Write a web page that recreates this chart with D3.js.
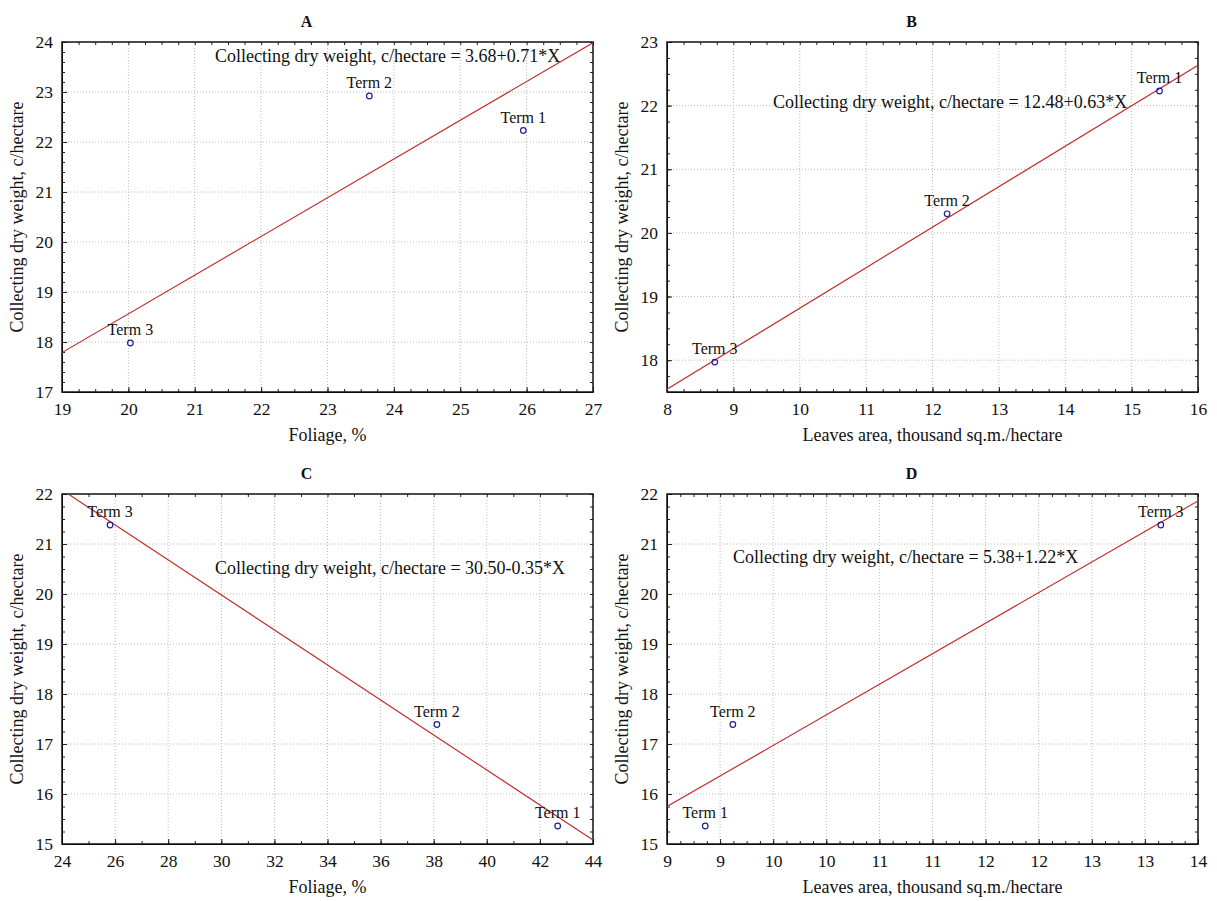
<!DOCTYPE html>
<html>
<head>
<meta charset="utf-8">
<script src="https://cdn.jsdelivr.net/npm/d3@7"></script>
<style>
  body { margin: 0; background: #fff; }
  svg text { font-family: "Liberation Serif", "Times New Roman", serif; fill: #111; }
</style>
</head>
<body>
<div id="graph"></div>
<script>
// data
const panelIds = ["A", "B", "C", "D"];
const termNames = ["Term 1", "Term 2", "Term 3"];

const foliageA = [25.95, 23.63, 20.03];
const weightA = [22.23, 22.92, 17.98];
const leavesB = [15.42, 12.22, 8.72];
const weightB = [22.23, 20.30, 17.97];
const foliageC = [42.67, 38.12, 25.81];
const weightC = [15.36, 17.39, 21.38];
const leavesD = [9.36, 9.62, 13.65];
const weightD = [15.36, 17.39, 21.38];

const equations = [
  "Collecting dry weight, c/hectare = 3.68+0.71*X",
  "Collecting dry weight, c/hectare = 12.48+0.63*X",
  "Collecting dry weight, c/hectare = 30.50-0.35*X",
  "Collecting dry weight, c/hectare = 5.38+1.22*X"
];

const xTitles = ["Foliage, %", "Leaves area, thousand sq.m./hectare", "Foliage, %", "Leaves area, thousand sq.m./hectare"];
const yTitle = "Collecting dry weight, c/hectare";

const xTicksA = [19, 20, 21, 22, 23, 24, 25, 26, 27];
const xTicksB = [8, 9, 10, 11, 12, 13, 14, 15, 16];
const xTicksC = [24, 26, 28, 30, 32, 34, 36, 38, 40, 42, 44];
const xTicksD = [9, 9.5, 10, 10.5, 11, 11.5, 12, 12.5, 13, 13.5, 14];
const xTickLabelsD = ["9", "9", "10", "10", "11", "11", "12", "12", "13", "13", "14"];
const yTicksA = [17, 18, 19, 20, 21, 22, 23, 24];
const yTicksB = [18, 19, 20, 21, 22, 23];
const yTicksC = [15, 16, 17, 18, 19, 20, 21, 22];
const yTicksD = [15, 16, 17, 18, 19, 20, 21, 22];

// panel setup (layout only)
const panels = [
  { x: foliageA, y: weightA, xDom: [19, 27], yDom: [17, 24], xTicks: xTicksA, yTicks: yTicksA, xMinor: 0.25, yMinor: 0.2,
    left: 62, top: 42, eq: [153, 20] },
  { x: leavesB, y: weightB, xDom: [8, 16], yDom: [17.5, 23], xTicks: xTicksB, yTicks: yTicksB, xMinor: 0.25, yMinor: 0.25,
    left: 667, top: 42, eq: [106, 66] },
  { x: foliageC, y: weightC, xDom: [24, 44], yDom: [15, 22], xTicks: xTicksC, yTicks: yTicksC, xMinor: 1, yMinor: 0.25,
    left: 62, top: 494, eq: [153, 80] },
  { x: leavesD, y: weightD, xDom: [9, 14], yDom: [15, 22], xTicks: xTicksD, yTicks: yTicksD, xMinor: 0.125, yMinor: 0.25,
    left: 667, top: 494, eq: [66, 69], xLabels: xTickLabelsD }
];

const svgWidth = 1217;
const svgHeight = 901;
const plotW = 531;
const plotH = 350;

const svg = d3.select("#graph")
  .append("svg")
  .attr("width", svgWidth)
  .attr("height", svgHeight);

panels.forEach((p, i) => {
  const g = svg.append("g").attr("transform", `translate(${p.left},${p.top})`);

  const xScale = d3.scaleLinear().domain(p.xDom).range([0, plotW]);
  const yScale = d3.scaleLinear().domain(p.yDom).range([plotH, 0]);

  // dotted grid
  g.append("g")
    .selectAll("line")
    .data(p.xTicks.filter((t) => t > p.xDom[0] && t < p.xDom[1]))
    .enter()
    .append("line")
    .attr("x1", (d) => xScale(d)).attr("x2", (d) => xScale(d))
    .attr("y1", 0).attr("y2", plotH)
    .attr("stroke", "#b8b8b8").attr("stroke-dasharray", "1,2");

  g.append("g")
    .selectAll("line")
    .data(p.yTicks.filter((t) => t > p.yDom[0] && t < p.yDom[1]))
    .enter()
    .append("line")
    .attr("y1", (d) => yScale(d)).attr("y2", (d) => yScale(d))
    .attr("x1", 0).attr("x2", plotW)
    .attr("stroke", "#b8b8b8").attr("stroke-dasharray", "1,2");

  // axes, ticks pointing inside
  const xMinorTicks = d3.range(p.xDom[0], p.xDom[1] + 1e-9, p.xMinor);
  const yMinorTicks = d3.range(p.yDom[0], p.yDom[1] + 1e-9, p.yMinor);

  const xLab = p.xLabels ? (d) => p.xLabels[p.xTicks.indexOf(d)] : d3.format("d");

  g.append("g")
    .attr("transform", `translate(0,${plotH})`)
    .call(d3.axisBottom(xScale).tickValues(xMinorTicks).tickSize(-3).tickFormat(""))
    .call((a) => a.select(".domain").remove());
  g.append("g")
    .attr("class", "xaxis")
    .attr("transform", `translate(0,${plotH})`)
    .call(d3.axisBottom(xScale).tickValues(p.xTicks).tickSizeInner(-5).tickSizeOuter(0).tickPadding(11).tickFormat(xLab));
  g.append("g")
    .call(d3.axisTop(xScale).tickValues(xMinorTicks).tickSize(-3).tickFormat(""))
    .call((a) => a.select(".domain").remove());

  g.append("g")
    .call(d3.axisLeft(yScale).tickValues(yMinorTicks).tickSize(-3).tickFormat(""))
    .call((a) => a.select(".domain").remove());
  g.append("g")
    .attr("class", "yaxis")
    .call(d3.axisLeft(yScale).tickValues(p.yTicks).tickSizeInner(-5).tickSizeOuter(0).tickPadding(9).tickFormat(d3.format("d")));
  g.append("g")
    .attr("transform", `translate(${plotW},0)`)
    .call(d3.axisRight(yScale).tickValues(yMinorTicks).tickSize(-3).tickFormat(""))
    .call((a) => a.select(".domain").remove());

  // serif tick labels like the rest
  g.selectAll(".xaxis, .yaxis").attr("font-family", null);
  g.selectAll(".tick text")
    .attr("font-family", "Liberation Serif, Times New Roman, serif")
    .attr("font-size", 17.5)
    .attr("fill", "#111");
  g.selectAll(".tick line").attr("stroke", "#222");

  // frame
  g.append("rect")
    .attr("width", plotW).attr("height", plotH)
    .attr("fill", "none").attr("stroke", "#111").attr("stroke-width", 1.5);

  // least squares line from the three points
  const mx = d3.mean(p.x);
  const my = d3.mean(p.y);
  const slope = d3.sum(p.x, (d, k) => (d - mx) * (p.y[k] - my)) / d3.sum(p.x, (d) => (d - mx) * (d - mx));
  const icpt = my - slope * mx;

  const clipId = "clip" + i;
  g.append("clipPath").attr("id", clipId)
    .append("rect").attr("width", plotW).attr("height", plotH);

  g.append("path")
    .datum(p.xDom)
    .attr("clip-path", `url(#${clipId})`)
    .attr("fill", "none")
    .attr("stroke", "#c42e2e")
    .attr("stroke-width", 1.2)
    .attr("d", d3.line().x((d) => xScale(d)).y((d) => yScale(icpt + slope * d)));

  // points and labels
  const pts = p.x.map((d, k) => ({ x: d, y: p.y[k], name: termNames[k] }));

  g.selectAll(".pt")
    .data(pts)
    .enter()
    .append("circle")
    .attr("cx", (d) => xScale(d.x))
    .attr("cy", (d) => yScale(d.y))
    .attr("r", 2.8)
    .attr("fill", "none")
    .attr("stroke", "#1f1f9a")
    .attr("stroke-width", 1.2);

  g.selectAll(".lbl")
    .data(pts)
    .enter()
    .append("text")
    .attr("x", (d) => xScale(d.x))
    .attr("y", (d) => yScale(d.y) - 8)
    .attr("text-anchor", "middle")
    .attr("font-size", 16)
    .text((d) => d.name);

  // equation
  g.append("text")
    .attr("x", p.eq[0])
    .attr("y", p.eq[1])
    .attr("font-size", 18)
    .text(equations[i]);

  // titles
  g.append("text")
    .attr("x", plotW / 2 - 21)
    .attr("y", -15)
    .attr("text-anchor", "middle")
    .attr("font-size", 16)
    .attr("font-weight", "bold")
    .text(panelIds[i]);

  g.append("text")
    .attr("x", plotW / 2)
    .attr("y", plotH + 49)
    .attr("text-anchor", "middle")
    .attr("font-size", 18)
    .text(xTitles[i]);

  g.append("text")
    .attr("transform", `translate(-39,${plotH / 2}) rotate(-90)`)
    .attr("text-anchor", "middle")
    .attr("font-size", 18)
    .text(yTitle);
});
</script>
</body>
</html>
